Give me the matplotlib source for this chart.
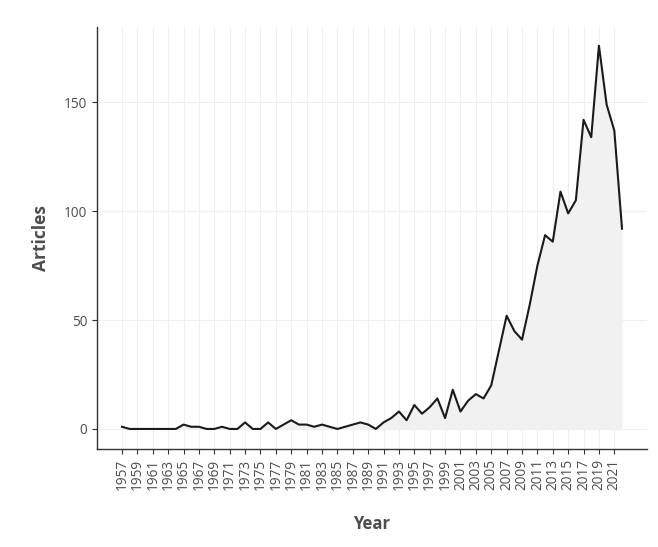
import matplotlib
matplotlib.use("Agg")
import matplotlib.pyplot as plt
import numpy as np

years = list(range(1957, 2023))
articles = [1, 0, 0, 0, 0, 0, 0, 0, 2, 1, 1, 0, 0, 1, 0, 0, 3, 0, 0, 3,
            0, 2, 4, 2, 2, 1, 2, 1, 0, 1, 2, 3, 2, 0, 3, 5, 8, 4, 11, 7,
            10, 14, 5, 18, 8, 13, 16, 14, 20, 36, 52, 45, 41, 57, 75, 89,
            86, 109, 99, 105, 142, 134, 176, 149, 137, 92]
xticks = list(range(1957, 2022, 2))
yticks = [0, 50, 100, 150]

plt.rcParams['font.family'] = ['Open Sans', 'DejaVu Sans']

fig = plt.figure(figsize=(6.58, 5.47), dpi=100)
ax = fig.add_axes([0.1474, 0.1792, 0.8359, 0.7714])

ax.fill_between(years, articles, 0, color='#f1f1f1', zorder=1, linewidth=0)
ax.plot(years, articles, color='#1a1a1a', linewidth=1.5, zorder=3)

ax.set_xlim(1953.75, 2025.25)
ax.set_ylim(-9.2, 184.6)
ax.set_xticks(xticks)
ax.set_xticklabels([str(y) for y in xticks], rotation=90)
ax.set_yticks(yticks)

ax.grid(True, color='#efefef', linewidth=0.8, zorder=0)
ax.set_axisbelow(True)

for s in ['top', 'right']:
    ax.spines[s].set_visible(False)
for s in ['left', 'bottom']:
    ax.spines[s].set_color('#333333')
    ax.spines[s].set_linewidth(1.0)

ax.tick_params(axis='both', colors='#333333', labelcolor='#4d4d4d',
               labelsize=9.8, length=3.5, width=0.8)

ax.set_xlabel('Year', fontsize=12, fontweight='bold', color='#4d4d4d', labelpad=18)
ax.set_ylabel('Articles', fontsize=12.5, fontweight='bold', color='#4d4d4d', labelpad=10)

fig.savefig('out.png', dpi=100)
